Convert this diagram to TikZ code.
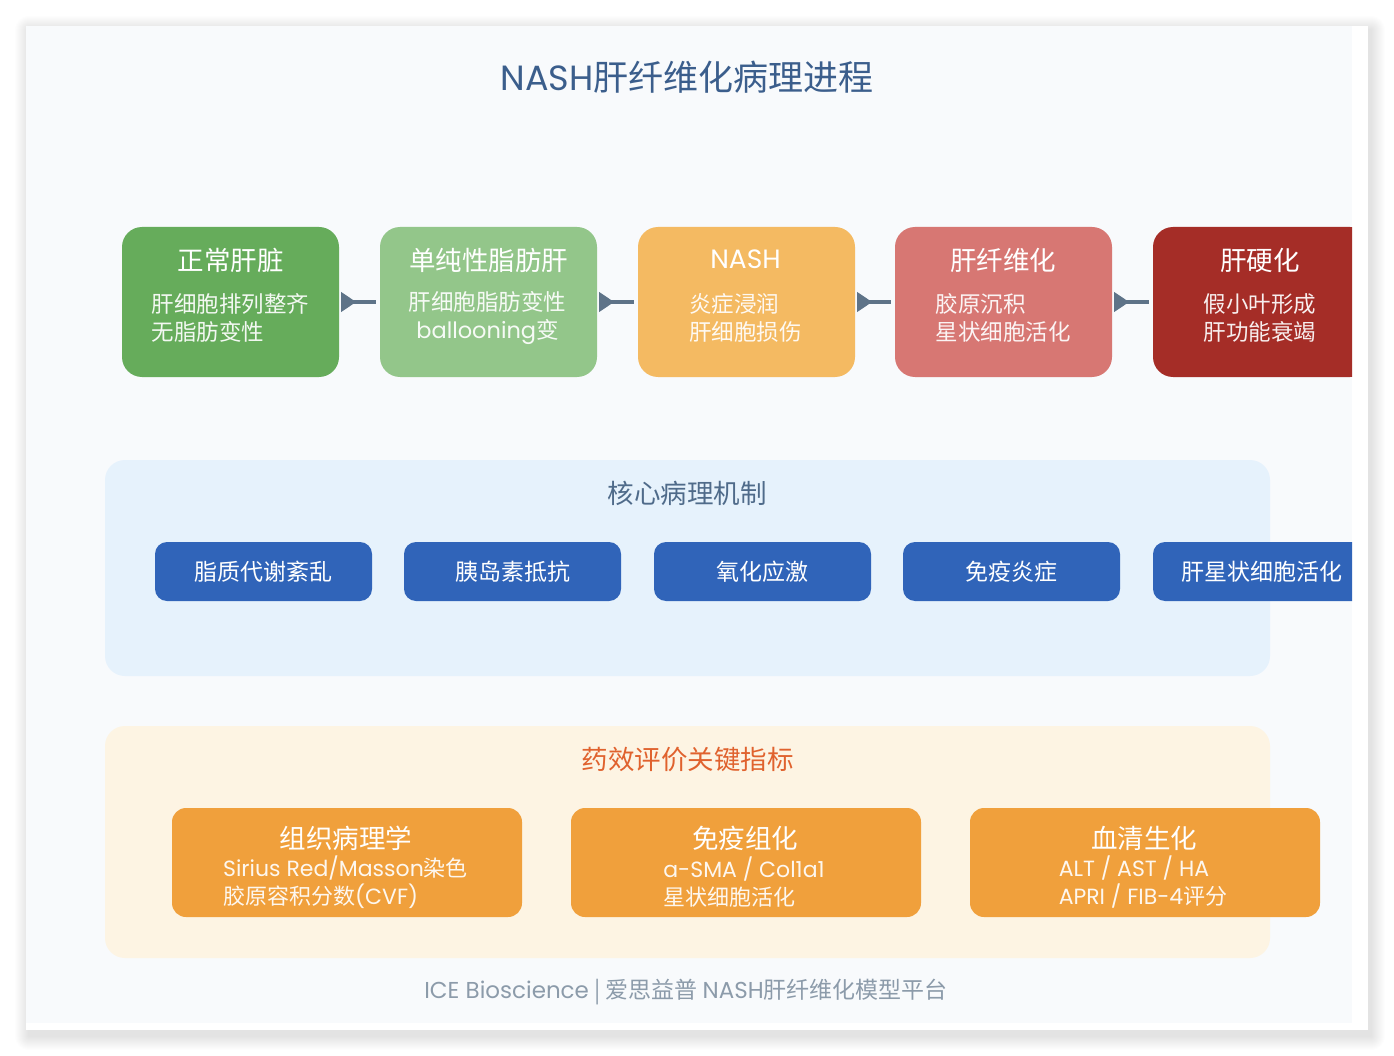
\documentclass[tikz,border=0pt]{standalone}
\usepackage{fontspec}
\setmainfont{Noto Sans CJK SC}
\newfontfamily\latf{Poppins}
\newcommand{\lat}[1]{{\latf #1}}
\usepackage{tikz}
\usetikzlibrary{arrows.meta,calc,positioning}
\usepackage{xcolor}

\definecolor{pagebg}{HTML}{F8FAFC}
\definecolor{titleblue}{HTML}{3B5E8C}
\definecolor{arrowgray}{HTML}{5E7388}
\definecolor{normalgreen}{HTML}{66AC5B}
\definecolor{fattygreen}{HTML}{93C68A}
\definecolor{nashorange}{HTML}{F4BA62}
\definecolor{fibrosispink}{HTML}{D77773}
\definecolor{cirrhosisred}{HTML}{A52D27}
\definecolor{mechpanel}{HTML}{E6F2FC}
\definecolor{mechtitle}{HTML}{4F6B8A}
\definecolor{mechblue}{HTML}{3064B9}
\definecolor{indpanel}{HTML}{FDF4E3}
\definecolor{indtitle}{HTML}{E0622E}
\definecolor{indorange}{HTML}{F0A03C}
\definecolor{footgray}{HTML}{8C9BAA}

\tikzset{
    stagebox/.style={rounded corners=20pt, minimum width=217pt, minimum height=150pt, inner sep=0pt},
    stagetitle/.style={text=white, inner sep=0pt, font=\fontsize{26.5}{28}\selectfont},
    stagetext/.style={text=white, text opacity=.92, inner sep=0pt, align=left, font=\fontsize{22.5}{28}\selectfont},
    flow/.style={line width=3.5pt, draw=arrowgray, {Triangle[reversed,length=15pt,width=19pt]}-, shorten <=2pt, shorten >=4pt},
    mechbox/.style={fill=mechblue, rounded corners=12pt, minimum width=217pt, minimum height=59pt, inner sep=0pt, text=white, font=\fontsize{23}{24}\selectfont},
    indbox/.style={fill=indorange, rounded corners=14pt, minimum width=350pt, minimum height=109pt, inner sep=0pt},
    indhead/.style={text=white, inner sep=0pt, font=\fontsize{26.5}{28}\selectfont},
    indtext/.style={text=white, text opacity=.92, inner sep=0pt, align=left, font=\fontsize{22}{28}\selectfont},
}

\begin{document}
\begin{tikzpicture}[x=1pt,y=-1pt]
    \useasboundingbox (0,0) rectangle (1394,1056);
    \fill[white] (0,0) rectangle (1394,1056);

    % card with soft shadow
    \foreach \i in {1,...,14}
        \fill[black, opacity=0.006, rounded corners=\i pt] ($(26,26)+(3-\i,4-\i)$) rectangle ($(1368,1030)+(3+\i,6+\i)$);
    \fill[white] (26,26) rectangle (1368,1030);

    \begin{scope}
    \clip (26,26) rectangle (1352,1023);
    \fill[pagebg] (26,26) rectangle (1352,1023);

    \node[text=titleblue, font=\fontsize{35}{38}\selectfont] (title) at (687,77) {\lat{NASH}肝纤维化病理进程};

    % disease stages
    \node[stagebox, fill=normalgreen] (s1) at (230.5,302) {};
    \node[stagebox, fill=fattygreen] (s2) at (488.5,302) {};
    \node[stagebox, fill=nashorange] (s3) at (746.5,302) {};
    \node[stagebox, fill=fibrosispink] (s4) at (1003.5,302) {};
    \node[stagebox, fill=cirrhosisred] (s5) at (1261.5,302) {};

    \node[stagetitle] (s1t) at (230.5,260) {正常肝脏};
    \node[stagetext] (s1d) at (230.5,318) {肝细胞排列整齐\\无脂肪变性};
    \node[stagetitle] (s2t) at (488.5,260) {单纯性脂肪肝};
    \node[stagetext, align=center] (s2d) at (487.5,318) {肝细胞脂肪变性\\\lat{ballooning}变};
    \node[stagetitle] (s3t) at (745.5,259) {\lat{NASH}};
    \node[stagetext] (s3d) at (745.5,318) {炎症浸润\\肝细胞损伤};
    \node[stagetitle] (s4t) at (1003,260) {肝纤维化};
    \node[stagetext] (s4d) at (1003,318) {胶原沉积\\星状细胞活化};
    \node[stagetitle] (s5t) at (1260,260) {肝硬化};
    \node[stagetext] (s5d) at (1260,318) {假小叶形成\\肝功能衰竭};

    \draw[flow] (s1.east) -- (s2.west);
    \draw[flow] (s2.east) -- (s3.west);
    \draw[flow] (s3.east) -- (s4.west);
    \draw[flow] (s4.east) -- (s5.west);

    % core mechanisms
    \fill[mechpanel, rounded corners=20pt] (105,460) rectangle (1270,676);
    \node[text=mechtitle, font=\fontsize{26.5}{28}\selectfont] (mecht) at (687,493) {核心病理机制};
    \node[mechbox] (m1) at (263.5,571.5) {脂质代谢紊乱};
    \node[mechbox] (m2) at (512.5,571.5) {胰岛素抵抗};
    \node[mechbox] (m3) at (762.5,571.5) {氧化应激};
    \node[mechbox] (m4) at (1011.5,571.5) {免疫炎症};
    \node[mechbox] (m5) at (1261.5,571.5) {肝星状细胞活化};

    % efficacy readouts
    \fill[indpanel, rounded corners=20pt] (105,726) rectangle (1270,958);
    \node[text=indtitle, font=\fontsize{26.5}{28}\selectfont] (indt) at (687.5,759) {药效评价关键指标};
    \node[indbox] (i1) at (347,862.5) {};
    \node[indbox] (i2) at (746,862.5) {};
    \node[indbox] (i3) at (1145,862.5) {};
    \node[indhead] (i1t) at (346,838) {组织病理学};
    \node[indtext] (i1d) at (345.5,882) {\lat{Sirius Red/Masson}染色\\胶原容积分数\lat{(CVF)}};
    \node[indhead] (i2t) at (745,838) {免疫组化};
    \node[indtext] (i2d) at (744,882) {\lat{a-SMA / Col1a1}\\星状细胞活化};
    \node[indhead] (i3t) at (1144,838) {血清生化};
    \node[indtext] (i3d) at (1143,882) {\lat{ALT / AST / HA}\\\lat{APRI / FIB-4}评分};

    \node[text=footgray, font=\fontsize{23}{26}\selectfont] (foot) at (686,992) {\lat{ICE Bioscience}~|~爱思益普 \lat{NASH}肝纤维化模型平台};
    \end{scope}
\end{tikzpicture}
\end{document}
